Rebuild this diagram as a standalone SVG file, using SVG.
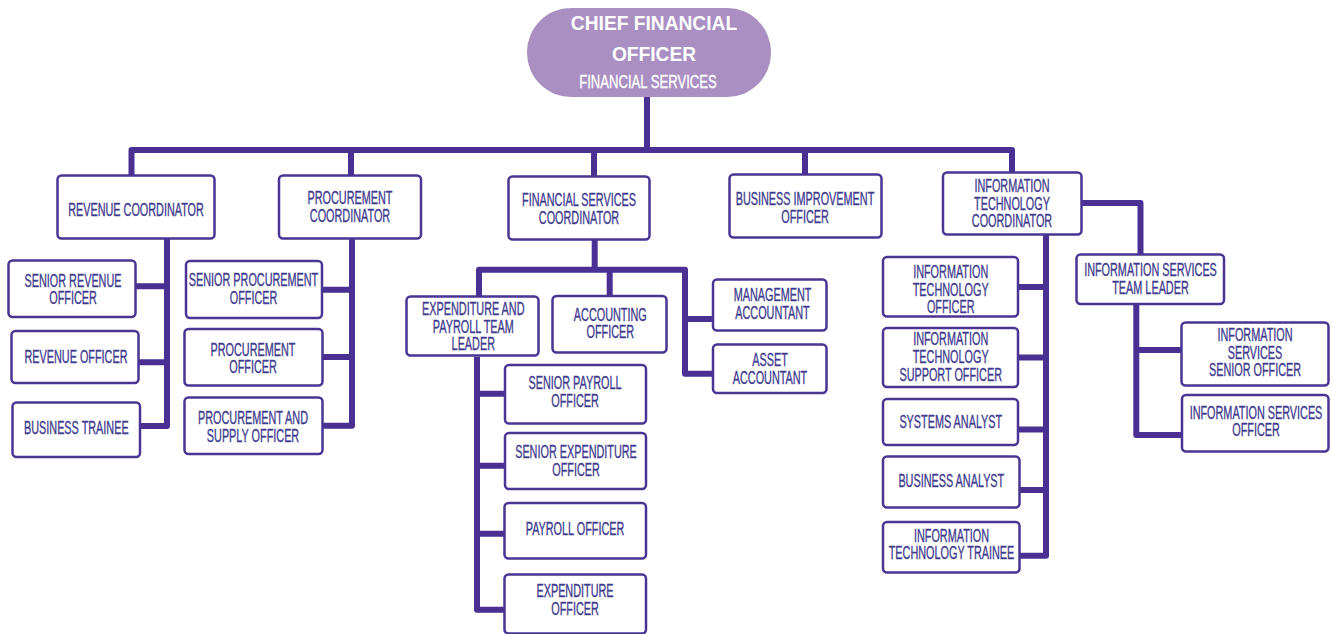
<svg xmlns="http://www.w3.org/2000/svg" width="1332" height="634" viewBox="0 0 1332 634">
<style>
.box{fill:#fff;stroke:#4B3594;stroke-width:2.5}
.t{font-family:"Liberation Sans",Arial,sans-serif;font-size:17.5px;fill:#3E3A8E;stroke:#3E3A8E;stroke-width:0.35;text-anchor:middle}
.tt{font-family:"Liberation Sans",Arial,sans-serif;fill:#fff;text-anchor:middle}
.c{fill:none;stroke:#4A3093;stroke-width:6;stroke-linejoin:round;stroke-linecap:butt}
</style>
<rect width="1332" height="634" fill="#fff"/>
<g id="connectors">
<path class="c" d="M647 96 V150"/>
<path class="c" d="M131.5 176 V150 H1012 V172.5"/>
<path class="c" d="M351 150 V176 M594 150 V177 M805 150 V174.5"/>
<path class="c" d="M167 239 V426 H140 M135.5 286.3 H167 M138.5 362.3 H167"/>
<path class="c" d="M352 239 V425.7 H322.5 M322 289.7 H352 M322.5 357 H352"/>
<path class="c" d="M594.7 240 V269.7 M479 296.5 V269.7 H685 V373.7 H713 M609.7 269.7 V296 M685 319 H713"/>
<path class="c" d="M477 357 V609.7 H504.5 M477 393.7 H505 M477 465.7 H505 M477 533.7 H504.5"/>
<path class="c" d="M1046 234.5 V555.7 H1019.5 M1018 287 H1046 M1018 357.5 H1046 M1018 429.5 H1046 M1019.5 490 H1046"/>
<path class="c" d="M1081.5 203 H1140.5 V254.5"/>
<path class="c" d="M1136.3 304 V435 H1182 M1136.3 350 H1181.5"/>
</g>
<g id="cfo">
<rect x="527" y="8" width="244" height="89" rx="44" fill="#A98FC2"/>
<text class="tt" font-weight="bold" font-size="20" transform="translate(654,30) scale(0.96 1)">CHIEF FINANCIAL</text>
<text class="tt" font-weight="bold" font-size="20" transform="translate(654,61) scale(0.96 1)">OFFICER</text>
<text class="tt" font-size="19" stroke="#fff" stroke-width="0.35" transform="translate(648,88) scale(0.69 1)">FINANCIAL SERVICES</text>
</g>
<g id="revenue_coordinator">
<rect class="box" x="57.5" y="175.5" width="157" height="63" rx="4"/>
<text class="t" transform="translate(136,216) scale(0.62 1)">REVENUE COORDINATOR</text>
</g>
<g id="procurement_coordinator">
<rect class="box" x="279" y="175.5" width="142" height="63" rx="4"/>
<text class="t" transform="translate(350,204) scale(0.62 1)"><tspan x="0" y="0">PROCUREMENT</tspan><tspan x="0" y="18">COORDINATOR</tspan></text>
</g>
<g id="financial_services_coordinator">
<rect class="box" x="508.5" y="176.5" width="141" height="63" rx="4"/>
<text class="t" transform="translate(579,206) scale(0.62 1)"><tspan x="0" y="0">FINANCIAL SERVICES</tspan><tspan x="0" y="18">COORDINATOR</tspan></text>
</g>
<g id="business_improvement_officer">
<rect class="box" x="729.5" y="174.5" width="152" height="63" rx="4"/>
<text class="t" transform="translate(805,205) scale(0.62 1)"><tspan x="0" y="0">BUSINESS IMPROVEMENT</tspan><tspan x="0" y="17.7">OFFICER</tspan></text>
</g>
<g id="it_coordinator">
<rect class="box" x="943" y="172.5" width="138.5" height="62" rx="4"/>
<text class="t" transform="translate(1012,192) scale(0.62 1)"><tspan x="0" y="0">INFORMATION</tspan><tspan x="0" y="17.7">TECHNOLOGY</tspan><tspan x="0" y="35">COORDINATOR</tspan></text>
</g>
<g id="senior_revenue_officer">
<rect class="box" x="8.5" y="260.5" width="127" height="56.5" rx="4"/>
<text class="t" transform="translate(73,286.5) scale(0.62 1)"><tspan x="0" y="0">SENIOR REVENUE</tspan><tspan x="0" y="17.3">OFFICER</tspan></text>
</g>
<g id="revenue_officer">
<rect class="box" x="11.5" y="331" width="127" height="52" rx="4"/>
<text class="t" transform="translate(76,362.7) scale(0.62 1)">REVENUE OFFICER</text>
</g>
<g id="business_trainee">
<rect class="box" x="12.5" y="402.5" width="127.5" height="54.5" rx="4"/>
<text class="t" transform="translate(76.3,433.7) scale(0.62 1)">BUSINESS TRAINEE</text>
</g>
<g id="senior_procurement_officer">
<rect class="box" x="186" y="261" width="136" height="57" rx="4"/>
<text class="t" transform="translate(253.5,286.3) scale(0.62 1)"><tspan x="0" y="0">SENIOR PROCUREMENT</tspan><tspan x="0" y="17.3">OFFICER</tspan></text>
</g>
<g id="procurement_officer">
<rect class="box" x="184.5" y="329" width="138" height="56.5" rx="4"/>
<text class="t" transform="translate(253,356) scale(0.62 1)"><tspan x="0" y="0">PROCUREMENT</tspan><tspan x="0" y="17.3">OFFICER</tspan></text>
</g>
<g id="procurement_supply_officer">
<rect class="box" x="184.5" y="397.5" width="138" height="56.5" rx="4"/>
<text class="t" transform="translate(253,424.4) scale(0.62 1)"><tspan x="0" y="0">PROCUREMENT AND</tspan><tspan x="0" y="17.7">SUPPLY OFFICER</tspan></text>
</g>
<g id="expenditure_payroll_team_leader">
<rect class="box" x="406.5" y="296.5" width="132" height="59" rx="4"/>
<text class="t" transform="translate(473.3,315.4) scale(0.62 1)"><tspan x="0" y="0">EXPENDITURE AND</tspan><tspan x="0" y="18">PAYROLL TEAM</tspan><tspan x="0" y="35">LEADER</tspan></text>
</g>
<g id="accounting_officer">
<rect class="box" x="552.5" y="296" width="114" height="56.5" rx="4"/>
<text class="t" transform="translate(610.3,320.7) scale(0.62 1)"><tspan x="0" y="0">ACCOUNTING</tspan><tspan x="0" y="17.7">OFFICER</tspan></text>
</g>
<g id="management_accountant">
<rect class="box" x="713" y="279.5" width="113.5" height="51" rx="4"/>
<text class="t" transform="translate(772.5,301) scale(0.62 1)"><tspan x="0" y="0">MANAGEMENT</tspan><tspan x="0" y="17.6">ACCOUNTANT</tspan></text>
</g>
<g id="asset_accountant">
<rect class="box" x="713" y="344.5" width="113.5" height="48.5" rx="4"/>
<text class="t" transform="translate(770,366.4) scale(0.62 1)"><tspan x="0" y="0">ASSET</tspan><tspan x="0" y="17.7">ACCOUNTANT</tspan></text>
</g>
<g id="senior_payroll_officer">
<rect class="box" x="505" y="365" width="141" height="58.5" rx="4"/>
<text class="t" transform="translate(575,389.4) scale(0.62 1)"><tspan x="0" y="0">SENIOR PAYROLL</tspan><tspan x="0" y="17.7">OFFICER</tspan></text>
</g>
<g id="senior_expenditure_officer">
<rect class="box" x="505" y="433" width="141" height="56" rx="4"/>
<text class="t" transform="translate(576,458) scale(0.62 1)"><tspan x="0" y="0">SENIOR EXPENDITURE</tspan><tspan x="0" y="18">OFFICER</tspan></text>
</g>
<g id="payroll_officer">
<rect class="box" x="504.5" y="503" width="141.5" height="55.5" rx="4"/>
<text class="t" transform="translate(575,535) scale(0.62 1)">PAYROLL OFFICER</text>
</g>
<g id="expenditure_officer">
<rect class="box" x="504.5" y="574.5" width="141.5" height="59" rx="4"/>
<text class="t" transform="translate(575,597) scale(0.62 1)"><tspan x="0" y="0">EXPENDITURE</tspan><tspan x="0" y="18">OFFICER</tspan></text>
</g>
<g id="it_officer">
<rect class="box" x="883" y="257" width="135" height="59.5" rx="4"/>
<text class="t" transform="translate(950.7,278.4) scale(0.62 1)"><tspan x="0" y="0">INFORMATION</tspan><tspan x="0" y="17.2">TECHNOLOGY</tspan><tspan x="0" y="34.5">OFFICER</tspan></text>
</g>
<g id="it_support_officer">
<rect class="box" x="883" y="328" width="135" height="59" rx="4"/>
<text class="t" transform="translate(950.7,345.4) scale(0.62 1)"><tspan x="0" y="0">INFORMATION</tspan><tspan x="0" y="18">TECHNOLOGY</tspan><tspan x="0" y="35.3">SUPPORT OFFICER</tspan></text>
</g>
<g id="systems_analyst">
<rect class="box" x="883" y="399" width="135" height="46" rx="4"/>
<text class="t" transform="translate(950.8,427.6) scale(0.62 1)">SYSTEMS ANALYST</text>
</g>
<g id="business_analyst">
<rect class="box" x="883" y="456.5" width="136.5" height="51" rx="4"/>
<text class="t" transform="translate(951.3,487) scale(0.62 1)">BUSINESS ANALYST</text>
</g>
<g id="it_trainee">
<rect class="box" x="883" y="522" width="136.5" height="50.5" rx="4"/>
<text class="t" transform="translate(951.5,541.7) scale(0.62 1)"><tspan x="0" y="0">INFORMATION</tspan><tspan x="0" y="17.7">TECHNOLOGY TRAINEE</tspan></text>
</g>
<g id="is_team_leader">
<rect class="box" x="1076.5" y="254.5" width="147.5" height="49.5" rx="4"/>
<text class="t" transform="translate(1150.5,276) scale(0.62 1)"><tspan x="0" y="0">INFORMATION SERVICES</tspan><tspan x="0" y="17.6">TEAM LEADER</tspan></text>
</g>
<g id="is_senior_officer">
<rect class="box" x="1181.5" y="322.5" width="147" height="63" rx="4"/>
<text class="t" transform="translate(1255,341) scale(0.62 1)"><tspan x="0" y="0">INFORMATION</tspan><tspan x="0" y="17.6">SERVICES</tspan><tspan x="0" y="35">SENIOR OFFICER</tspan></text>
</g>
<g id="is_officer">
<rect class="box" x="1182" y="395" width="146.5" height="56.5" rx="4"/>
<text class="t" transform="translate(1256,419) scale(0.62 1)"><tspan x="0" y="0">INFORMATION SERVICES</tspan><tspan x="0" y="17.3">OFFICER</tspan></text>
</g>
</svg>
